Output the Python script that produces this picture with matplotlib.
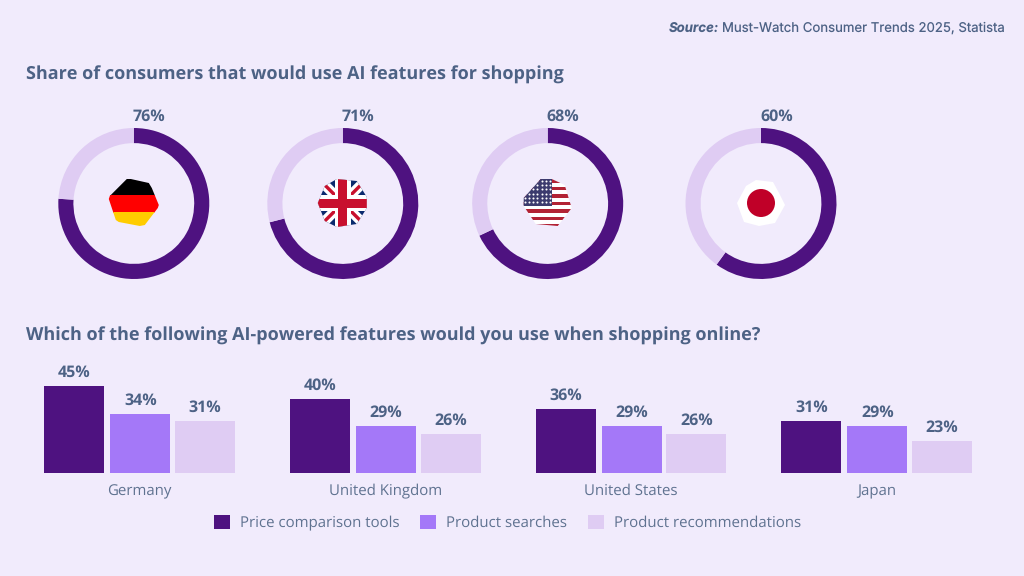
import matplotlib
matplotlib.use("Agg")
import numpy as np
import matplotlib.pyplot as plt
import matplotlib.transforms as mt
from matplotlib.patches import Polygon, Rectangle, Circle, Patch

BG = "#F1EBFC"; DARK = "#4E1280"; MID = "#A478F8"; LIGHT = "#DFCCF3"; TXT = "#4D6285"; AX = "#5F7290"
W, H = 1024, 576
FONT = ["Open Sans", "DejaVu Sans"]
plt.rcParams["font.family"] = FONT
plt.rcParams["text.hinting"] = "no_hinting"
plt.rcParams["text.hinting_factor"] = 1

countries = ["Germany", "United Kingdom", "United States", "Japan"]
share = [76, 71, 68, 60]
series = ["Price comparison tools", "Product searches", "Product recommendations"]
price = [45, 40, 36, 31]
searches = [34, 29, 29, 29]
recommend = [31, 26, 26, 23]

fig = plt.figure(figsize=(W / 100, H / 100), dpi=100, facecolor=BG)

def px_axes(l, t, w, h):
    return fig.add_axes([l / W, 1 - (t + h) / H, w / W, h / H])

# Donuts
centers = [133.8, 342.8, 547.7, 761]
cy, R = 203.5, 75.5
for c, s in zip(centers, share):
    a = px_axes(c - R, cy - R, 2 * R, 2 * R)
    a.pie([s, 100 - s], colors=[DARK, LIGHT], startangle=90, counterclock=False,
          radius=1, wedgeprops=dict(width=0.2, linewidth=0))
    a.set_xlim(-1, 1); a.set_ylim(-1, 1); a.set_aspect("equal"); a.axis("off"); a.patch.set_alpha(0)

# Overlay in pixels for flags and text
o = fig.add_axes([0, 0, 1, 1], zorder=5)
o.set_xlim(0, W); o.set_ylim(H, 0); o.axis("off"); o.patch.set_alpha(0)

def clip_poly(c, pts):
    p = Polygon([(c + x, 203 + y) for x, y in pts], closed=True, fc="none", ec="none", transform=o.transData)
    o.add_patch(p)
    return p

def rect(c, x, y, w, h, col, clip, angle=0):
    r = Rectangle((c + x, 203 + y), w, h, fc=col, ec="none", clip_on=True)
    if angle:
        r.set_transform(mt.Affine2D().rotate_deg_around(c, 203, angle) + o.transData)
    o.add_patch(r); r.set_clip_path(clip)

# Germany
c = centers[0]
clip = clip_poly(c, [(-7, -24), (-3, -24), (15, -20), (18, -15), (25, 2), (24, 5), (11, 22), (6, 23),
                     (-15, 19), (-18, 17), (-25, -4), (-24, -7)])
for y, col in zip([-25, -8, 9], ["#000000", "#FF0000", "#FFCC00"]):
    rect(c, -26, y, 52, 18 if y < 9 else 17, col, clip)
# UK
c = centers[1]
clip = clip_poly(c, [(-6, -24), (14, -22), (24, -6), (24, 5), (14, 21), (-6, 24), (-18, 18), (-25, 0), (-18, -17)])
rect(c, -26, -26, 52, 52, "#0A2A6E", clip)
for ang in (45, -45):
    rect(c, -40, -5, 80, 10, "#FFFFFF", clip, ang)
    rect(c, -40, -1.7, 80, 3.4, "#C8102E", clip, ang)
rect(c, -26, -8, 52, 16, "#FFFFFF", clip); rect(c, -8, -26, 16, 52, "#FFFFFF", clip)
rect(c, -26, -4.5, 52, 9, "#C8102E", clip); rect(c, -4.5, -26, 9, 52, "#C8102E", clip)
# US
c = centers[2]
clip = clip_poly(c, [(-7, -24), (4, -24), (17, -18), (24, 5), (10, 23), (-12, 21), (-24, 3), (-24, -5)])
for k in range(13):
    rect(c, -26, -24 + k * 3.75, 52, 3.75, "#B22234" if k % 2 == 0 else "#FFFFFF", clip)
rect(c, -26, -26, 30, 29, "#3C3B6E", clip)
sx, sy = np.meshgrid(np.arange(-23, 3, 4.2), np.arange(-22, 1, 4.2))
st = o.scatter(c + sx.ravel(), 203 + sy.ravel(), s=2.2, c="white", linewidths=0)
st.set_clip_path(clip)
# Japan
c = centers[3]
o.add_patch(Polygon([(c + x, 203 + y) for x, y in
                     [(-5, -23), (12, -21), (18, -10), (24, 2), (14, 20), (-2, 23), (-17, 19), (-24, 0), (-15, -17)]],
                    fc="#FFFFFF", ec="none"))
o.add_patch(Circle((c, 203), 14, fc="#C00028", ec="none"))

# Donut value labels
for c, s in zip(centers, share):
    o.text(c + 15.5, 117, f"{s}%", ha="center", va="center", fontsize=11.3, fontweight="bold", color=TXT)

# Headings
o.text(26, 75, "Share of consumers that would use AI features for shopping", fontsize=13,
       fontweight="bold", color=TXT, ha="left", va="center")
o.text(26, 336, "Which of the following AI-powered features would you use when shopping online?", fontsize=13,
       fontweight="bold", color=TXT, ha="left", va="center")
t1 = o.text(1005, 28, "Must-Watch Consumer Trends 2025, Statista", fontsize=9.5, family=["Inter", "DejaVu Sans"],
            color=TXT, ha="right", va="center")
fig.canvas.draw()
bb = t1.get_window_extent().transformed(o.transData.inverted())
o.text(bb.x0 - 3, 28, "Source:", fontsize=9.5, family=["Inter", "DejaVu Sans"], style="italic", fontweight="bold",
       color=TXT, ha="right", va="center")

# Bars (value axis does not start at zero)
spacing = 245.7
g0 = 140.3
base, top_px = 472.5, 376.4
b = px_axes(0, top_px, W, base - top_px)
b.set_xlim(-g0 / spacing, (W - g0) / spacing)
b.set_ylim(10.4, 48.84)
b.patch.set_alpha(0)
x = np.arange(len(countries))
bw = 60 / spacing
offs = [-66 / spacing, 0, 64.7 / spacing]
for vals, off, col in zip([price, searches, recommend], offs, [DARK, MID, LIGHT]):
    rects = b.bar(x + off, vals, bw, color=col, linewidth=0)
    for r, v in zip(rects, vals):
        b.annotate(f"{v}%", (r.get_x() + r.get_width() / 2, v), xytext=(0, 3.8), textcoords="offset points",
                   ha="center", va="bottom", fontsize=11.3, fontweight="bold", color=TXT, annotation_clip=False)
b.set_xticks(x - 0.8 / spacing, countries)
b.tick_params(axis="x", length=0, pad=8, labelsize=10.9, labelcolor=AX)
b.set_yticks([])
for s in b.spines.values():
    s.set_visible(False)

handles = [Patch(fc=col, ec="none") for col in [DARK, MID, LIGHT]]
leg = fig.legend(handles, series, loc="center", bbox_to_anchor=(507.5 / W, 1 - 522.5 / H), ncol=3, frameon=False,
                 fontsize=10.85, labelcolor=AX, handlelength=1.06, handleheight=1.1, handletextpad=0.66,
                 columnspacing=1.4, borderpad=0)

fig.savefig("out.png", dpi=100, facecolor=BG)
